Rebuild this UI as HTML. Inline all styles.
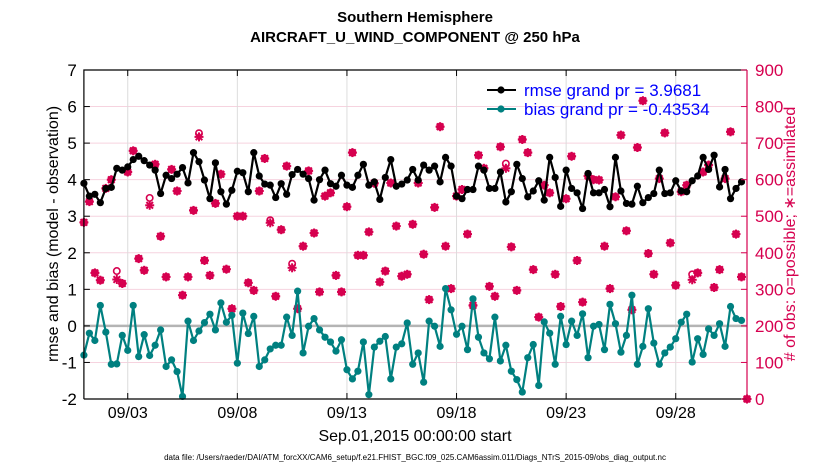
<!DOCTYPE html>
<html><head><meta charset="utf-8"><style>
html,body{margin:0;padding:0;background:#fff;}
svg{display:block;font-family:"Liberation Sans",sans-serif;}
</style></head><body>
<svg id="chart" width="830" height="470" viewBox="0 0 830 470">
<rect width="830" height="470" fill="#fff"/>
<text x="415" y="22" text-anchor="middle" font-size="15" font-weight="bold">Southern Hemisphere</text>
<text x="415" y="42" text-anchor="middle" font-size="15" font-weight="bold">AIRCRAFT_U_WIND_COMPONENT @ 250 hPa</text>
<g id="grid"></g>
<g id="marks"></g>
<g id="axes"></g>
<text transform="translate(58,234) rotate(-90)" text-anchor="middle" font-size="16">rmse and bias (model - observation)</text>
<text transform="translate(795,234) rotate(-90)" text-anchor="middle" font-size="16" fill="#d6004f"># of obs: o=possible; ∗=assimilated</text>
<text x="415" y="441" text-anchor="middle" font-size="16">Sep.01,2015 00:00:00 start</text>
<text x="415" y="460" text-anchor="middle" font-size="8">data file: /Users/raeder/DAI/ATM_forcXX/CAM6_setup/f.e21.FHIST_BGC.f09_025.CAM6assim.011/Diags_NTrS_2015-09/obs_diag_output.nc</text>
<g>
  <line x1="487" y1="90" x2="516" y2="90" stroke="#000" stroke-width="2"/>
  <circle cx="501" cy="90" r="3.6" fill="#000"/>
  <text x="524" y="96" font-size="17" fill="#0000ff">rmse grand pr = 3.9681</text>
  <line x1="487" y1="109" x2="516" y2="109" stroke="#008080" stroke-width="2"/>
  <circle cx="501" cy="109" r="3.6" fill="#008080"/>
  <text x="524" y="115" font-size="17" fill="#0000ff">bias grand pr = -0.43534</text>
</g>
</svg>
<script>
const rmse=[3.9,3.55,3.6,
3.37,3.76,3.79,4.31,4.26,4.35,4.55,4.64,4.52,4.40,4.26,3.62,4.12,4.03,4.15,4.33,3.91,4.74,4.49,3.99,3.48,4.46,3.67,3.33,3.71,4.23,4.19,3.67,4.74,4.10,3.88,
3.85,3.51,3.89,3.60,4.14,4.28,4.15,4.03,3.44,4.0,4.26,3.89,3.82,4.12,3.85,3.79,4.12,4.42,3.85,3.94,3.46,4.06,4.55,3.82,3.88,3.99,4.28,3.99,4.40,4.26,
4.37,3.94,4.61,4.37,3.55,3.48,3.73,3.73,4.37,4.26,3.76,3.76,4.21,3.39,3.67,4.42,4.03,3.53,3.69,3.97,3.44,4.61,4.06,3.27,4.26,3.76,3.64,3.21,4.17,3.64,
3.64,3.73,3.26,4.61,3.69,3.35,3.33,3.82,3.37,3.51,3.62,4.26,3.62,3.64,3.97,3.69,3.67,3.97,4.10,4.61,4.28,4.67,3.80,4.28,3.48,3.76,3.94,
null];
const bias=[-0.8,-0.2,-0.4,
0.56,-0.17,-1.05,-1.04,-0.26,-0.67,0.56,-0.84,-0.24,-0.81,-0.53,-0.11,-1.11,-0.93,-1.25,-1.93,0.13,-0.40,-0.14,0.09,0.32,-0.11,0.63,0.10,0.29,-1.02,0.35,-0.21,0.26,-1.11,-0.93,
-0.63,-0.53,-0.53,0.24,-0.26,0.95,-0.74,-0.01,0.20,-0.11,-0.31,-0.44,-0.69,-0.38,-1.20,-1.45,-1.24,-0.44,-1.88,-0.58,-0.42,-0.29,-1.45,-0.58,-0.49,0.08,-1.05,-0.74,-1.54,0.13,
-0.01,-0.56,1.02,0.44,-0.23,-0.01,-0.65,0.74,-0.31,-0.74,-0.90,0.24,-0.96,-0.53,-1.24,-1.47,-1.81,-0.87,-0.51,-1.63,0.11,-0.20,-1.05,0.26,-0.51,0.13,-0.26,0.33,-0.87,-0.01,
0.04,-0.65,0.59,0.06,-0.72,-0.26,0.84,-1.05,-0.56,0.47,-0.47,-1.05,-0.74,-0.58,-0.35,0.10,0.32,-0.99,-0.35,-0.78,-0.08,-0.26,0.06,-0.56,0.53,0.20,0.15,
null];
const obsAssim=[483,540,345,
325,576,600,327,316,621,679,384,352,530,642,445,334,628,569,284,334,516,717,379,338,535,615,355,247,500,500,318,297,569,658,
482,281,463,637,359,247,418,624,454,293,555,564,338,293,526,674,393,393,457,590,320,350,591,473,336,341,478,591,396,272,
524,745,418,302,555,573,451,256,667,631,308,281,690,631,416,297,710,674,354,224,585,564,341,253,548,664,379,265,610,600,
599,418,302,553,722,460,244,688,816,398,341,603,728,427,311,567,585,326,345,621,640,305,354,603,731,451,334,
0];
const obsPoss=[483,540,345,
325,576,600,350,316,621,679,384,352,550,642,445,334,628,569,284,334,516,727,379,338,535,615,355,247,500,500,318,297,569,658,
489,281,463,637,370,247,418,624,454,293,555,564,338,293,526,674,393,393,457,590,320,350,591,473,336,341,478,591,396,272,
524,745,418,302,555,573,451,256,667,631,308,281,690,644,416,297,710,674,354,224,585,564,341,253,548,664,379,265,610,600,
599,418,302,553,722,460,244,688,816,398,341,603,728,427,311,567,585,341,345,621,640,305,354,603,731,451,334,
0];
const leftTicks=[-2,-1,0,1,2,3,4,5,6,7];
const rightTicks=[0,100,200,300,400,500,600,700,800,900];
const dayTicks=[2,7,12,17,22,27];
const dayLabels=["09/03","09/08","09/13","09/18","09/23","09/28"];
const stepDays=0.25;

const NS="http://www.w3.org/2000/svg";
const X0=83.9,X1=747,Y0=70,Y1=399;
const DAYSPAN=(X1-X0)/21.92;
function xs(d){return X0+d*21.92;}
function yl(v){return Y1-(v+2)/9*(Y1-Y0);}
function yr(v){return Y1-v/900*(Y1-Y0);}
function mk(tag,attrs,parent){const e=document.createElementNS(NS,tag);for(const k in attrs)e.setAttribute(k,attrs[k]);parent.appendChild(e);return e;}
const grid=document.getElementById('grid'),marks=document.getElementById('marks'),axes=document.getElementById('axes');

leftTicks.forEach(v=>{
  const l=mk('line',{x1:X0,x2:X1,y1:yl(v),y2:yl(v),stroke:'#f6d3df','stroke-width':1},grid);
  
  
  const t=mk('text',{x:X0-7,y:yl(v)+6,'text-anchor':'end','font-size':17},axes);
  t.textContent=v;
  
  
  const tk=mk('line',{x1:X0,x2:X0+6,y1:yl(v),y2:yl(v),stroke:'#000'},axes);
  
  
});
dayTicks.forEach((d,i)=>{
  const l=mk('line',{x1:xs(d),x2:xs(d),y1:Y0,y2:Y1,stroke:'#dcdcdc','stroke-width':1},grid);
  
  
  const t=mk('text',{x:xs(d),y:418,'text-anchor':'middle','font-size':16},axes);
  t.textContent=dayLabels[i];
  
  
  const a=mk('line',{x1:xs(d),x2:xs(d),y1:Y1,y2:Y1-6,stroke:'#000'},axes);
  
  
  const b=mk('line',{x1:xs(d),x2:xs(d),y1:Y0,y2:Y0+6,stroke:'#000'},axes);
  
  
});
const zl=mk('line',{x1:X0,x2:X1,y1:yl(0),y2:yl(0),stroke:'#b4b4b4','stroke-width':2.5},grid);



function tx(i){return xs(i*stepDays);}
function series(arr,color,name){
  let d='';arr.forEach((v,i)=>{if(v===null)return;d+=(d?'L':'M')+tx(i).toFixed(1)+','+yl(v).toFixed(1);});
  const p=mk('path',{d:d,fill:'none',stroke:color,'stroke-width':2.2,'stroke-linejoin':'round'},marks);
  
  
  arr.forEach((v,i)=>{if(v===null)return;
    const c=mk('circle',{cx:tx(i),cy:yl(v),r:3.6,fill:color},marks);
    
    
  });
}
const MAG='#d6004f';
obsPoss.forEach((v,i)=>{
  const c=mk('circle',{cx:tx(i),cy:yr(v),r:3.2,fill:'none',stroke:MAG,'stroke-width':1.6},marks);
  
  
});
obsAssim.forEach((v,i)=>{
  const g=mk('g',{transform:'translate('+tx(i).toFixed(1)+','+yr(v).toFixed(1)+')',stroke:MAG,'stroke-width':2},marks);
  
  
  mk('line',{x1:-4.5,x2:4.5,y1:0,y2:0},g);
  mk('line',{x1:0,x2:0,y1:-4.5,y2:4.5},g);
  mk('line',{x1:-3.3,x2:3.3,y1:-3.3,y2:3.3},g);
  mk('line',{x1:-3.3,x2:3.3,y1:3.3,y2:-3.3},g);
});
series(rmse,'#000','rmse');
series(bias,'#008080','bias');

const fr=mk('path',{d:`M${X0},${Y1}L${X0},${Y0}L${X1},${Y0}`,fill:'none',stroke:'#000','stroke-width':1.2},axes);


const bx=mk('line',{x1:X0,x2:X1,y1:Y1,y2:Y1,stroke:'#000','stroke-width':1.2},axes);


const ra=mk('line',{x1:X1,x2:X1,y1:Y0,y2:Y1,stroke:MAG,'stroke-width':1.2},axes);


rightTicks.forEach(v=>{
  const t=mk('text',{x:X1+8,y:yr(v)+6,'font-size':17,fill:MAG},axes);
  t.textContent=v;
  
  
  const tk=mk('line',{x1:X1-6,x2:X1,y1:yr(v),y2:yr(v),stroke:MAG},axes);
  
  
});
</script>
</body></html>
